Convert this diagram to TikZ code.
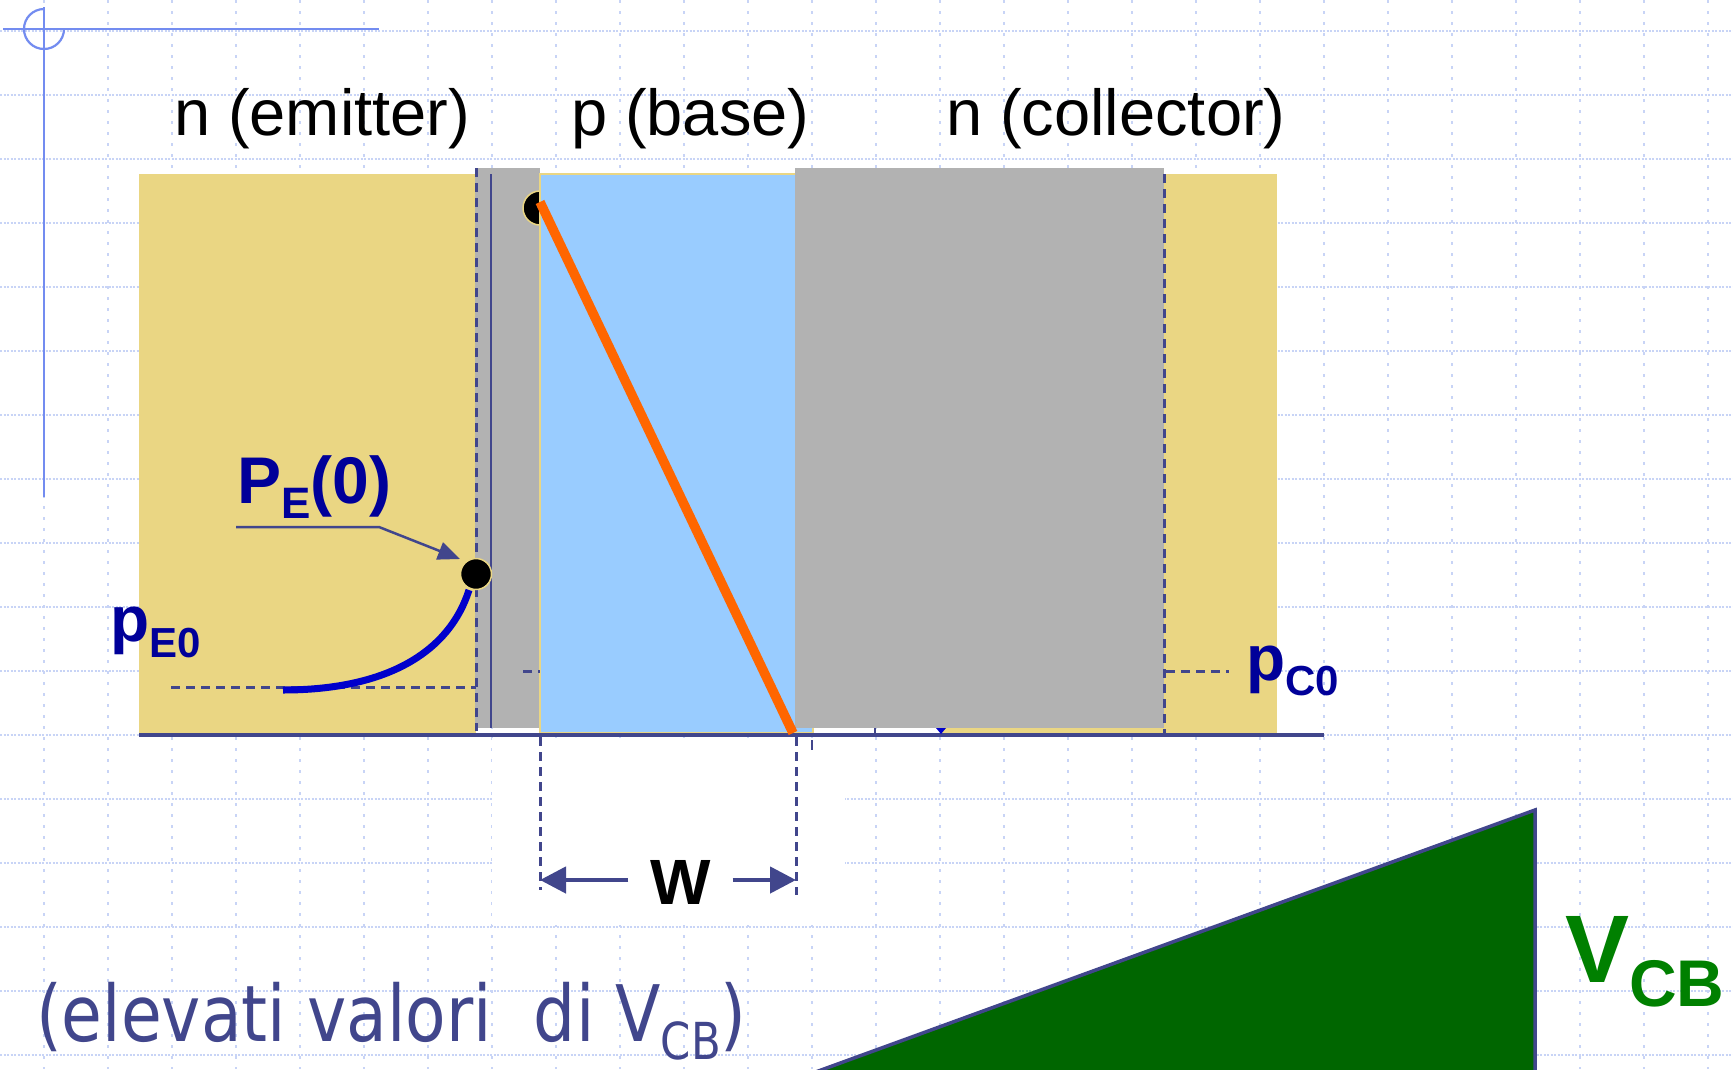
\documentclass[tikz,border=0pt]{standalone}
\usepackage{fontspec}
\setmainfont{Liberation Sans}
\newfontfamily\tahoma[FakeStretch=0.85]{DejaVu Sans}
\usetikzlibrary{arrows.meta}
\definecolor{yel}{RGB}{234,214,131}
\definecolor{gry}{RGB}{178,178,178}
\definecolor{lblue}{RGB}{153,204,255}
\definecolor{navy}{RGB}{65,70,140}
\definecolor{dblue}{RGB}{0,0,153}
\definecolor{cblue}{RGB}{0,0,204}
\definecolor{orng}{RGB}{255,102,0}
\definecolor{dgreen}{RGB}{0,102,0}
\definecolor{tgreen}{RGB}{0,128,0}
\definecolor{gridc}{RGB}{200,212,246}
\definecolor{origc}{RGB}{115,140,240}
\begin{document}
\begin{tikzpicture}[x=1pt,y=-1pt,
  every node/.style={inner sep=0pt, outer sep=0pt},
  gridrow/.style={gridc, line width=1.6pt, dash pattern=on 2pt off 1.5pt},
  gridcol/.style={gridc, line width=1.6pt, dash pattern=on 3pt off 8pt},
  origline/.style={origc, line width=2.2pt},
  dashline/.style={navy, line width=3pt, dash pattern=on 9pt off 6pt},
  warrow/.style={navy, line width=4.5pt, -{Triangle[length=26pt,width=26pt]}},
  parrow/.style={navy, line width=2.5pt, -{Triangle[length=22pt,width=18pt]}},
  biglabel/.style={anchor=base west, text=black},
  bluelabel/.style={anchor=base west, text=dblue, font=\bfseries},
  dotstyle/.style={fill=black, draw=yel, line width=1.5pt}]
\useasboundingbox (0,0) rectangle (1733,1069);
\clip (0,0) rectangle (1733,1069);
\fill[white] (0,0) rectangle (1733,1069);
% background grid
\foreach \k in {0,...,16} \draw[gridrow] (0,31+64*\k) -- (1733,31+64*\k);
\foreach \k in {0,...,26} \draw[gridcol] (44+64*\k,0) -- (44+64*\k,1069);
% origin marker
\draw[origline] (3,29) -- (379,29);
\draw[origline] (44,7) -- (44,497);
\draw[origline] (64,29) arc[start angle=0,end angle=270,radius=20];
% white box behind W
\fill[white] (492,738) rectangle (845,925);
% device regions
\fill[yel] (940,174) rectangle (1277,733);
\fill[yel] (139,174) rectangle (476,733);
\fill[gry] (475,168) rectangle (540,728);
\filldraw[dotstyle] (540,208) circle[radius=17];
\filldraw[fill=lblue, draw=yel, line width=2pt] (540,174) rectangle (813,733);
\fill[gry] (795,168) rectangle (1164,728);
% baseline
\draw[navy, line width=4.5pt] (139,735) -- (1324,735);
% dashed and thin lines
\draw[dashline] (476,168) -- (476,731);
\draw[navy, line width=2pt] (491,174) -- (491,728);
\draw[dashline] (1164,174) -- (1164,735);
\draw[dashline] (540,737) -- (540,890);
\draw[dashline] (796,737) -- (796,895);
\draw[navy, line width=2.6pt] (812,740) -- (812,750);
\draw[navy, line width=2pt] (875,728) -- (875,735);
\fill[cblue] (936,728) -- (946,728) -- (941,734) -- cycle;
\draw[dashline] (171,687) -- (476,687);
\draw[dashline] (523,671) -- (540,671);
\draw[dashline] (1166,671) -- (1229,671);
% orange profile in base
\draw[orng, line width=9.5pt] (540,202) -- (793,733);
% emitter minority profile
\draw[cblue, line width=7pt] (283,690) .. controls (390,690) and (450,650) .. (469,590);
\node[circle, dotstyle, minimum size=31pt] (dotE) at (476,574) {};
% labels
\node[biglabel] (nemit) at (174,135) {\fontsize{65}{70}\selectfont n (emitter)};
\node[biglabel] (pbase) at (571,135) {\fontsize{65}{70}\selectfont p (base)};
\node[biglabel] (ncoll) at (946,135) {\fontsize{65}{70}\selectfont n (collector)};
\node[bluelabel] (pe0lab) at (237,503) {\fontsize{66}{70}\selectfont P\raisebox{-15pt}{\fontsize{44}{48}\selectfont E}(0)};
\node[bluelabel] (pE0lab) at (110,641) {\fontsize{64}{70}\selectfont p\raisebox{-16pt}{\fontsize{42}{46}\selectfont E0}};
\node[bluelabel] (pC0lab) at (1246,680) {\fontsize{64}{70}\selectfont p\raisebox{-15pt}{\fontsize{42}{46}\selectfont C0}};
% PE(0) pointer
\coordinate (peA) at (236,527);
\coordinate (peB) at (379,527);
\coordinate (petip) at (460,559);
\draw[parrow] (peA) -- (peB) -- (petip);
% W dimension
\node[anchor=base, text=black, font=\bfseries] (wlab) at (680.5,904) {\fontsize{64}{70}\selectfont W};
\coordinate (wL) at (540,880);
\coordinate (wR) at (796,880);
\draw[warrow, shorten <=22pt] (wlab.west |- wL) -- (wL);
\draw[warrow, shorten <=22pt] (wlab.east |- wR) -- (wR);
% VCB triangle
\filldraw[fill=dgreen, draw=navy, line width=3.5pt] (1535,810) -- (1535,1085) -- (780,1085) -- cycle;
\node[anchor=base west, text=tgreen, font=\bfseries] (vcb) at (1565,982) {\fontsize{96}{100}\selectfont V\raisebox{-24pt}{\fontsize{66}{70}\selectfont CB}};
% note
\node[anchor=base west, text=navy] (note) at (36,1041) {\tahoma\fontsize{78}{84}\selectfont (elevati valori\ \ di V\raisebox{-18pt}{\fontsize{51}{56}\selectfont CB})};
\end{tikzpicture}
\end{document}
